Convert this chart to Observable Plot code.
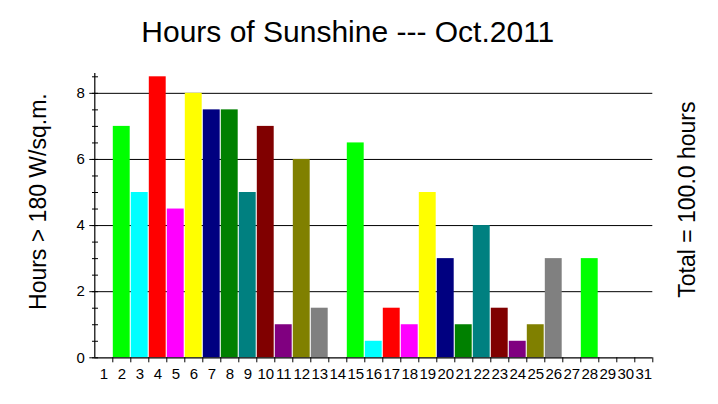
<!DOCTYPE html>
<html>
<head>
<meta charset="utf-8">
<script src="https://cdn.jsdelivr.net/npm/d3@7"></script>
<script src="https://cdn.jsdelivr.net/npm/@observablehq/plot@0.6"></script>
<style>
  html, body { margin: 0; padding: 0; background: #fff; }
  svg { display: block; }
</style>
</head>
<body>
<div id="chart"></div>
<script>
const days = [1,2,3,4,5,6,7,8,9,10,11,12,13,14,15,16,17,18,19,20,21,22,23,24,25,26,27,28,29,30,31];
const hours = [0,7,5,8.5,4.5,8,7.5,7.5,5,7,1,6,1.5,0,6.5,0.5,1.5,1,5,3,1,4,1.5,0.5,1,3,0,3,0,0,0];
const palette = ["#0000FF","#00FF00","#00FFFF","#FF0000","#FF00FF","#FFFF00","#000080","#008000","#008080","#800000","#800080","#808000","#808080"];
const yMajor = [0,2,4,6,8];
const yMinor = [0,0.5,1,1.5,2,2.5,3,3.5,4,4.5,5,5.5,6,6.5,7,7.5,8,8.5];
const title = "Hours of Sunshine --- Oct.2011";
const yLabel = "Hours > 180 W/sq.m.";
const total = d3.sum(hours);
const rightLabel = `Total = ${total.toFixed(1)} hours`;

const data = days.map((d, i) => ({day: d, hours: hours[i], color: palette[(d - 1) % palette.length]}));
const bounds = days.map(d => d + 0.5);
const font = "'Liberation Sans', Arial, sans-serif";

const chart = Plot.plot({
  width: 718,
  height: 404,
  marginLeft: 94.3,
  marginRight: 65.7,
  marginTop: 73,
  marginBottom: 46.7,
  style: {fontFamily: font, background: "#fff", color: "#000"},
  x: {type: "linear", domain: [0.5, 31.5], axis: null},
  y: {domain: [0, 8.6], axis: null},
  marks: [
    Plot.ruleY(yMajor.filter(v => v > 0), {stroke: "#000", strokeWidth: 1}),
    Plot.rectY(data, {x1: d => d.day - 0.5, x2: d => d.day + 0.5, y: "hours", fill: d => d.color, insetLeft: 0.5, insetRight: 0.6}),
    Plot.ruleX([0.5], {stroke: "#000", strokeWidth: 1.2}),
    Plot.ruleY([0], {stroke: "#000", strokeWidth: 1.2}),
    Plot.axisY({ticks: yMajor, label: null, tickSize: 5, tickPadding: 5, fontSize: 15, tickFormat: d => String(d), stroke: "#000", fill: "#000"}),
    Plot.axisY({ticks: yMinor, label: null, tickSize: 6, dx: 3.7, tickFormat: () => "", stroke: "#000"}),
    Plot.axisX({ticks: bounds, label: null, tickSize: 5, tickFormat: () => "", stroke: "#000"}),
    Plot.axisX({ticks: days, label: null, tickSize: 0, tickPadding: 11, fontSize: 15, tickFormat: d => String(d), fill: "#000"}),
    Plot.text([title], {frameAnchor: "top", dx: -26, dy: -41, fontSize: 30, fill: "#000", textAnchor: "middle", lineAnchor: "middle"}),
    Plot.text([yLabel], {frameAnchor: "left", dx: -56, dy: -14, rotate: -90, fontSize: 23, fill: "#000", textAnchor: "middle"}),
    Plot.text([rightLabel], {frameAnchor: "right", dx: 35, dy: -16, rotate: -90, fontSize: 23, fill: "#000", textAnchor: "middle"})
  ]
});
document.getElementById("chart").appendChild(chart);
</script>
</body>
</html>
